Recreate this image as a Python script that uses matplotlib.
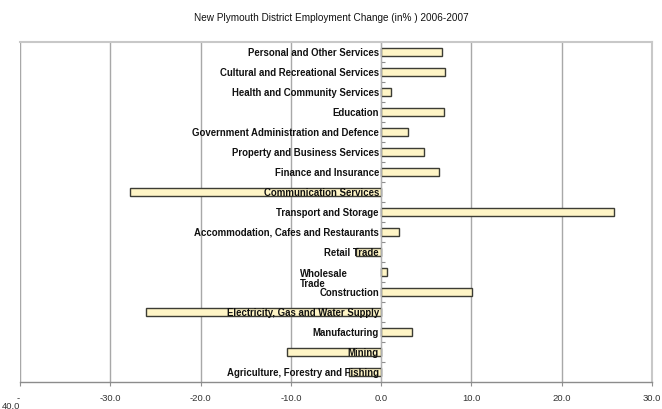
import matplotlib.pyplot as plt
import numpy as np

# industries, bottom to top
industries = ['Agriculture, Forestry and Fishing', 'Mining', 'Manufacturing',
              'Electricity, Gas and Water Supply', 'Construction', 'Wholesale\nTrade',
              'Retail Trade', 'Accommodation, Cafes and Restaurants',
              'Transport and Storage', 'Communication Services',
              'Finance and Insurance', 'Property and Business Services',
              'Government Administration and Defence', 'Education',
              'Health and Community Services', 'Cultural and Recreational Services',
              'Personal and Other Services']
change = [-3.6, -10.4, 3.4, -26.0, 10.1, 0.7, -2.8, 2.0, 25.8, -27.8,
          6.4, 4.8, 3.0, 7.0, 1.1, 7.1, 6.7]

xticks = [-40, -30, -20, -10, 0, 10, 20, 30]
xticklabels = ['-\n40.0', '-30.0', '-20.0', '-10.0', '0.0', '10.0', '20.0', '30.0']

plt.rcParams['font.family'] = ['Liberation Sans', 'DejaVu Sans']

fig = plt.figure(figsize=(6.62, 4.10), dpi=100)
ax = fig.add_axes([0.0302, 0.066, 0.9547, 0.829])

y = np.arange(len(industries))
ax.barh(y, change, height=0.4, color='#fff5c6', edgecolor='#3c3c34',
        linewidth=1.0, zorder=2)

for i, (name, v) in enumerate(zip(industries, change)):
    if '\n' in name:
        ax.text(-3.7, i - 0.3, name, ha='right', va='center', multialignment='left',
                fontsize=6.9, fontweight='bold', color='#111111', zorder=4,
                linespacing=1.0)
    else:
        ax.text(-0.25, i, name, ha='right', va='center', fontsize=6.9,
                fontweight='bold', color='#111111', zorder=4)

ax.set_xlim(-40, 30)
ax.set_ylim(-0.5, len(industries) - 0.5)

ax.set_xticks(xticks)
ax.set_xticklabels(xticklabels, fontsize=6.8, color='#333333')
ax.tick_params(axis='x', length=3, color='#909090', pad=5)
first = ax.get_xticklabels()[0]
first.set_horizontalalignment('right')
first.set_linespacing(0.85)
ax.grid(axis='x', color='#a8a8a8', linewidth=1.0, zorder=0)
ax.set_axisbelow(True)

# category axis sits on the zero line
ax.spines['left'].set_position(('data', 0))
ax.spines['left'].set_color('#b0b0b0')
ax.spines['left'].set_linewidth(0.8)
ax.set_yticks(y[:-1] + 0.5)
ax.set_yticklabels([])
ax.tick_params(axis='y', direction='in', length=3, color='#909090')

ax.spines['bottom'].set_color('#8c8c8c')
ax.spines['bottom'].set_linewidth(1.0)
for s in ['top', 'right']:
    ax.spines[s].set_color('#c8c8c8')
    ax.spines[s].set_linewidth(1.5)
ax.axvline(-40, color='#c4c4c4', linewidth=1.5, zorder=0)

fig.text(0.5, 0.955, 'New Plymouth District Employment Change (in% ) 2006-2007',
         ha='center', va='center', fontsize=7.2, color='#111111')

fig.savefig('out.png', dpi=100)
